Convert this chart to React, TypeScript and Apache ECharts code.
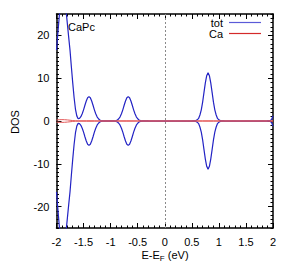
import React, { useEffect, useRef } from 'react';
import * as echarts from 'echarts';

const FONT = '"Liberation Sans", Arial, Helvetica, sans-serif';

// Energies (eV) and total DOS (spin up; spin down is its mirror)
const energy = [
  -2.0, -1.975, -1.95, -1.925, -1.9, -1.875, -1.85, -1.825, -1.8, -1.775,
  -1.75, -1.725, -1.7, -1.675, -1.65, -1.625, -1.6, -1.575, -1.55, -1.525,
  -1.5, -1.475, -1.45, -1.425, -1.4, -1.375, -1.35, -1.325, -1.3, -1.275,
  -1.25, -1.225, -1.2, -1.175, -1.15, -1.1, -1.0, -0.95, -0.9, -0.875,
  -0.85, -0.825, -0.8, -0.775, -0.75, -0.725, -0.7, -0.675, -0.65, -0.625,
  -0.6, -0.575, -0.55, -0.525, -0.5, -0.475, -0.45, -0.4, -0.3, 0,
  0.5, 0.55, 0.575, 0.6, 0.625, 0.65, 0.675, 0.7, 0.725, 0.75,
  0.775, 0.8, 0.825, 0.85, 0.875, 0.9, 0.925, 0.95, 0.975, 1.0,
  1.025, 1.05, 1.1, 1.5, 1.9, 1.95, 1.975, 2.0,
];
const totUp = [
  16.6, 20.5, 24.3, 27.5, 29.5, 30, 28.5, 26, 22.8, 19.6,
  16.5, 12.6, 8.9, 5.5, 2.8, 1.2, 0.55, 0.6, 1.0, 1.68,
  2.61, 3.68, 4.68, 5.43, 5.7, 5.43, 4.68, 3.68, 2.61, 1.68,
  0.98, 0.52, 0.25, 0.11, 0.05, 0.02, 0.02, 0.03, 0.11, 0.25,
  0.52, 0.98, 1.68, 2.61, 3.68, 4.68, 5.43, 5.7, 5.43, 4.68,
  3.68, 2.61, 1.68, 0.98, 0.52, 0.25, 0.11, 0.03, 0.01, 0,
  0.01, 0.04, 0.1, 0.27, 0.6, 1.4, 2.6, 4.4, 6.7, 8.9,
  10.6, 11.3, 10.6, 8.9, 6.7, 4.4, 2.6, 1.4, 0.6, 0.27,
  0.1, 0.04, 0.01, 0, 0.02, 0.1, 0.4, 1.2,
];

// Ca projected DOS (spin up; spin down mirrored)
const caEnergy = [
  -2.0, -1.95, -1.9, -1.85, -1.8, -1.75, -1.7, -1.65, -1.6, -1.45,
  -1.4, -1.3, -1.2, -0.9, -0.7, -0.5, 0, 0.7, 0.8, 0.9, 1.9, 2.0,
];
const caUp = [
  0.25, 0.3, 0.32, 0.3, 0.25, 0.18, 0.1, 0.05, 0.03, 0.05,
  0.06, 0.04, 0.01, 0.02, 0.05, 0.01, 0, 0.02, 0.04, 0.02, 0.01, 0.05,
];

const yTickValues = [-20, -10, 0, 10, 20];
const legendNames = ['tot', 'Ca'];
const BLUE = '#2323c4';
const RED = '#d42a2a';
const CA_LINE = '#e45858';

export default function App() {
  const ref = useRef<HTMLDivElement>(null);
  useEffect(() => {
    if (!ref.current) return;
    const chart = echarts.init(ref.current, null, { renderer: 'svg' });
    const blk = { color: '#000' };
    const xBase = (pos: 'bottom' | 'top', labels: boolean) => ({
      type: 'value',
      min: -2,
      max: 2,
      interval: 0.5,
      position: pos,
      axisLine: { show: true, onZero: false, lineStyle: { color: '#000', width: 1.5 } },
      axisTick: { show: true, inside: true, length: 5, lineStyle: blk },
      minorTick: { show: true, splitNumber: 5, length: 2.5, lineStyle: blk },
      splitLine: { show: false },
      axisLabel: { show: labels, color: '#000', fontSize: 11, fontFamily: FONT, margin: 8 },
    });
    const yMajor = (pos: 'left' | 'right', labels: boolean) => ({
      type: 'value',
      min: -25,
      max: 25,
      position: pos,
      axisLine: { show: true, onZero: false, lineStyle: { color: '#000', width: 1.5 } },
      axisTick: { show: true, inside: true, length: 5, lineStyle: blk, customValues: yTickValues },
      splitLine: { show: false },
      axisLabel: {
        show: labels,
        customValues: yTickValues,
        color: '#000',
        fontSize: 11,
        fontFamily: FONT,
        margin: 7,
      },
    });
    const yMinor = (pos: 'left' | 'right') => ({
      type: 'value',
      min: -25,
      max: 25,
      interval: 1,
      position: pos,
      axisLine: { show: false, onZero: false },
      axisTick: { show: true, inside: true, length: 2.5, lineStyle: blk },
      splitLine: { show: false },
      axisLabel: { show: false },
    });
    const totUpData = energy.map((e, i) => [e, totUp[i]]);
    const totDnData = energy.map((e, i) => [e, -totUp[i]]);
    const caUpData = caEnergy.map((e, i) => [e, caUp[i]]);
    const caDnData = caEnergy.map((e, i) => [e, -caUp[i]]);
    const lineSeries = (data: number[][], color: string, width: number, extra: any = {}) => ({
      type: 'line',
      data,
      xAxisIndex: 0,
      yAxisIndex: 0,
      showSymbol: false,
      symbol: 'none',
      clip: true,
      lineStyle: { color, width },
      itemStyle: { color },
      ...extra,
    });
    chart.setOption({
      animation: false,
      grid: { left: 56.5, right: 18, top: 14, bottom: 49 },
      xAxis: [xBase('bottom', true), xBase('top', false)],
      yAxis: [yMajor('left', true), yMinor('left'), yMajor('right', false), yMinor('right')],
      series: [
        lineSeries(totUpData, BLUE, 1.2, {
          name: legendNames[0],
          markLine: {
            silent: true,
            symbol: ['none', 'none'],
            label: { show: false },
            lineStyle: { color: '#8a8a8a', type: [2, 2], width: 1 },
            data: [{ xAxis: 0 }],
          },
        }),
        lineSeries(totDnData, BLUE, 1.2, { name: legendNames[0] }),
        lineSeries(caUpData, CA_LINE, 1, { name: legendNames[1] }),
        lineSeries(caDnData, CA_LINE, 1, { name: legendNames[1] }),
      ],
      graphic: [
        {
          type: 'text',
          x: 68,
          y: 27,
          style: { text: 'CaPc', fill: '#000', font: `11px ${FONT}`, verticalAlign: 'middle' },
        },
        {
          type: 'text',
          x: 223,
          y: 22.5,
          style: { text: legendNames[0], fill: '#000', font: `11px ${FONT}`, align: 'right', verticalAlign: 'middle' },
        },
        {
          type: 'line',
          shape: { x1: 229, y1: 22.5, x2: 261, y2: 22.5 },
          style: { stroke: '#5a5ad8', lineWidth: 1.2 },
        },
        {
          type: 'text',
          x: 223,
          y: 33.5,
          style: { text: legendNames[1], fill: '#000', font: `11px ${FONT}`, align: 'right', verticalAlign: 'middle' },
        },
        {
          type: 'line',
          shape: { x1: 229, y1: 33.5, x2: 261, y2: 33.5 },
          style: { stroke: RED, lineWidth: 1.2 },
        },
        {
          type: 'text',
          x: 15,
          y: 122,
          rotation: Math.PI / 2,
          style: { text: 'DOS', fill: '#000', font: `11px ${FONT}`, align: 'center', verticalAlign: 'middle' },
        },
        {
          type: 'text',
          x: 165,
          y: 255,
          style: {
            text: '{a|E-E}{b|F}{a| (eV)}',
            align: 'center',
            verticalAlign: 'middle',
            rich: {
              a: { fontSize: 11, fontFamily: FONT, fill: '#000', lineHeight: 14 },
              b: { fontSize: 8, fontFamily: FONT, fill: '#000', lineHeight: 8, verticalAlign: 'bottom' },
            },
          },
        },
      ],
    });
    return () => chart.dispose();
  }, []);
  return (
    <div
      ref={ref}
      style={{ position: 'fixed', left: 0, top: 0, width: 291, height: 277, background: '#fff' }}
    />
  );
}
